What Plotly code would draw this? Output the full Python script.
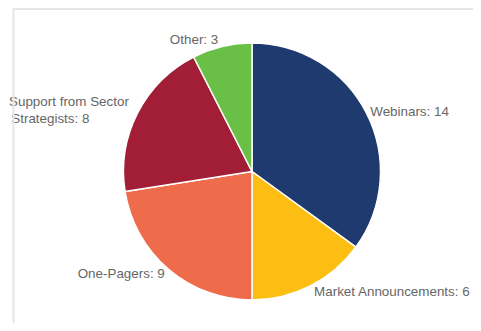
import plotly.graph_objects as go

labels = ["Webinars", "Market Announcements", "One-Pagers", "Support from Sector Strategists", "Other"]
display_labels = ["Webinars", "Market Announcements", "One-Pagers",
                  "Support from Sector<br>Strategists", "Other"]
values = [14, 6, 9, 8, 3]
colors = ["#1F3A6E", "#FDBE14", "#EE6B4B", "#A21E37", "#6ABF46"]
texts = [f"{d}: {v}" + ("&nbsp;" * 10 if "<br>" in d else "") for d, v in zip(display_labels, values)]

# page body has an 8px default margin; figure fills the rest of the 481x331 window
OFF = 8
W, H = 481 - 2 * OFF, 331 - 2 * OFF
cx, cy, r = 252 - OFF, 171.5 - OFF, 128.5

fig = go.Figure(go.Pie(
    labels=labels,
    values=values,
    text=texts,
    textinfo="text",
    textposition="outside",
    outsidetextfont=dict(family="Liberation Sans, Arial, sans-serif", size=13.4, color="#666666"),
    marker=dict(colors=colors, line=dict(color="white", width=1.5)),
    sort=False,
    direction="clockwise",
    rotation=0,
    showlegend=False,
    hoverinfo="label+value",
    automargin=False,
    domain=dict(x=[(cx - r) / W, (cx + r) / W], y=[1 - (cy + r) / H, 1 - (cy - r) / H]),
))

lx = (13.5 - OFF) / W
fig.update_layout(
    width=W, height=H,
    margin=dict(l=0, r=0, t=0, b=0),
    paper_bgcolor="white",
    plot_bgcolor="white",
    shapes=[
        dict(type="line", xref="paper", yref="paper", x0=lx, x1=1.0, y0=1 - 1 / H, y1=1 - 1 / H,
             line=dict(color="#E6E6E6", width=2)),
        dict(type="line", xref="paper", yref="paper", x0=lx, x1=lx, y0=0, y1=1,
             line=dict(color="#E6E6E6", width=2)),
    ],
)

fig.write_html("out.html", config={"displayModeBar": False})
